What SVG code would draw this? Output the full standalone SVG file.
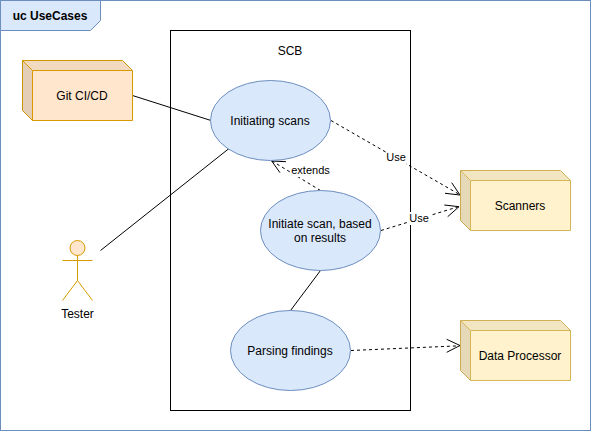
<svg xmlns="http://www.w3.org/2000/svg" width="591" height="431" viewBox="0 0 591 431">
<style>
text{font-family:"Liberation Sans",Arial,sans-serif;font-size:12px;fill:#000;text-anchor:middle}
.small{font-size:11px}
.uc{fill:#dae8fc;stroke:#6c8ebf;stroke-width:1}
.orange{fill:#ffe6cc;stroke:#d79b00;stroke-width:1}
.yellow{fill:#fff2cc;stroke:#d6b656;stroke-width:1}
.top{fill:#000;fill-opacity:.05;stroke:none}
.side{fill:#000;fill-opacity:.1;stroke:none}
.edge{fill:none;stroke:#000;stroke-width:1}
.dash{stroke-dasharray:3 3}
.lbl{fill:#fff}
</style>
<rect width="591" height="431" fill="#fff"/>
<g id="frame">
<rect x="0.5" y="0.5" width="590" height="430" fill="#fff" stroke="#6c8ebf"/>
<path d="M0.5 0.5H100.500V20.500L90.500 30.500H0.500Z" fill="#dae8fc" stroke="#6c8ebf"/>
<text x="50" y="20" style="font-weight:bold">uc UseCases</text>
</g>
<g id="system">
<rect x="170.500" y="30.500" width="240" height="380" fill="#fff" stroke="#000"/>
<text x="290" y="55">SCB</text>
</g>
<g id="connectors">
<path class="edge" d="M132.500 95.500L211 120.500"/>
<path class="edge" d="M100.500 250.500L229 148.500"/>
<path class="edge" d="M320.500 270.500L290.500 310.500"/>
<path class="edge dash" d="M331 120.500L459.500 194.500"/>
<path class="edge" d="M451.700 182.700L460 195L445 193.300"/>
<path class="edge dash" d="M381 230.500L458.500 206.700"/>
<path class="edge" d="M444.300 205L459 206.700L447.700 216.700"/>
<path class="edge dash" d="M320.500 190.500L272 161"/>
<path class="edge" d="M286 161.700L271.700 161L280 172.700"/>
<path class="edge dash" d="M351 350.500L459.500 345.800"/>
<path class="edge" d="M446.700 339.300L460 345.500L446.700 352.300"/>
<rect class="lbl" x="386" y="151" width="20" height="13"/>
<text class="small" x="396" y="161">Use</text>
<rect class="lbl" x="409" y="212" width="21" height="13"/>
<text class="small" x="419" y="222">Use</text>
<rect class="lbl" x="291" y="164" width="39" height="13"/>
<text class="small" x="310.500" y="174">extends</text>
</g>
<g id="git-cicd">
<path class="orange" d="M22.500 60.500H122.500L132.500 70.500V120.500H32.500L22.500 110.500Z"/>
<path class="top" d="M22.500 60.500H122.500L132.500 70.500H32.500Z"/>
<path class="side" d="M22.500 60.500L32.500 70.500V120.500L22.500 110.500Z"/>
<path fill="none" stroke="#d79b00" d="M22.500 60.500L32.500 70.500H132.500M32.500 70.500V120.500"/>
<text x="82" y="100">Git CI/CD</text>
</g>
<g id="tester">
<circle class="orange" cx="77.500" cy="248" r="7.500"/>
<path fill="none" stroke="#d79b00" d="M77.500 255.500V280.500M62.500 260.500H92.500M62.500 300.500L77.500 280.500L92.500 300.500"/>
<text x="77.500" y="318">Tester</text>
</g>
<g id="initiating-scans">
<ellipse class="uc" cx="270.500" cy="120.500" rx="60" ry="40"/>
<text x="270" y="125">Initiating scans</text>
</g>
<g id="initiate-scan-results">
<ellipse class="uc" cx="320.500" cy="230.500" rx="60" ry="40"/>
<text x="320" y="228">Initiate scan, based</text>
<text x="320" y="242">on results</text>
</g>
<g id="parsing-findings">
<ellipse class="uc" cx="290.500" cy="350.500" rx="60" ry="40"/>
<text x="290" y="355">Parsing findings</text>
</g>
<g id="scanners">
<path class="yellow" d="M460.500 170.500H560.500L570.500 180.500V230.500H470.500L460.500 220.500Z"/>
<path class="top" d="M460.500 170.500H560.500L570.500 180.500H470.500Z"/>
<path class="side" d="M460.500 170.500L470.500 180.500V230.500L460.500 220.500Z"/>
<path fill="none" stroke="#d6b656" d="M460.500 170.500L470.500 180.500H570.500M470.500 180.500V230.500"/>
<text x="520" y="210">Scanners</text>
</g>
<g id="data-processor">
<path class="yellow" d="M460.500 320.500H560.500L570.500 330.500V380.500H470.500L460.500 370.500Z"/>
<path class="top" d="M460.500 320.500H560.500L570.500 330.500H470.500Z"/>
<path class="side" d="M460.500 320.500L470.500 330.500V380.500L460.500 370.500Z"/>
<path fill="none" stroke="#d6b656" d="M460.500 320.500L470.500 330.500H570.500M470.500 330.500V380.500"/>
<text x="520" y="360">Data Processor</text>
</g>
</svg>
